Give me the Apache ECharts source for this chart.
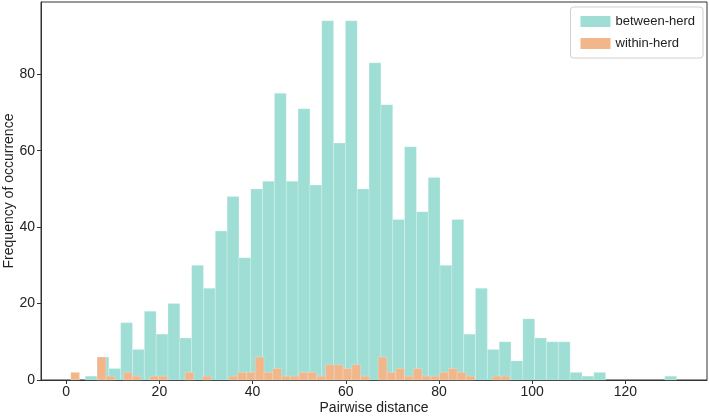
<!DOCTYPE html>
<html>
<head>
<meta charset="utf-8">
<script src="https://cdn.jsdelivr.net/npm/echarts@6/dist/echarts.min.js"></script>
<style>
html,body{margin:0;padding:0;background:#fff;}
#chart{width:709px;height:416px;}
</style>
</head>
<body>
<div id="chart"></div>
<script>
// Histogram bins (value space)
const betweenBinStart = 4.08;
const betweenBinWidth = 2.538;
const betweenCounts = [1,6,3,15,8,18,12,20,11,30,24,39,48,32,50,52,75,52,71,51,94,62,94,50,83,72,42,61,44,53,30,42,12,24,8,10,5,16,11,10,10,2,1,2,0,0,0,0,0,1];

const withinBinStart = 1.0;
const withinBinWidth = 1.884;
const withinCounts = [2,0,0,6,1,0,2,1,0,1,1,0,0,2,0,1,0,0,1,2,2,6,2,3,1,1,2,2,1,4,4,3,4,1,0,6,2,3,1,3,1,1,2,3,2,1,0,0,1,1];

const xTicks = [0,20,40,60,80,100,120];
const yTicks = [0,20,40,60,80];
const seriesNames = ['between-herd','within-herd'];

function toBins(start, width, counts){
  const out = [];
  counts.forEach((c,i)=>{ if (c>0) out.push([start+i*width, start+(i+1)*width, c]); });
  return out;
}

function makeRender(color){
  return function(params, api){
    const x0 = api.value(0), x1 = api.value(1), v = api.value(2);
    const p0 = api.coord([x0, v]);
    const p1 = api.coord([x1, 0]);
    return {
      type:'rect',
      shape:{x:p0[0], y:p0[1], width:p1[0]-p0[0], height:p1[1]-p0[1]},
      style:{fill:color, stroke:'rgba(255,255,255,0.35)', lineWidth:0.6}
    };
  };
}

const teal = '#9fded5';
const orange = '#f2b68b';

const chart = echarts.init(document.getElementById('chart'), null, {renderer:'canvas'});
chart.setOption({
  animation:false,
  backgroundColor:'#fff',
  textStyle:{fontFamily:'Liberation Sans, Arial, sans-serif'},
  grid:{left:41, right:2, top:2, bottom:36, containLabel:false, outerBoundsMode:'none',
        show:true, borderColor:'#333', borderWidth:1, backgroundColor:'transparent'},
  legend:{
    orient:'vertical', right:6, top:7,
    data:seriesNames,
    icon:'rect', itemWidth:30, itemHeight:11, itemGap:9,
    padding:[8,8,8,10],
    borderColor:'#d0d0d0', borderWidth:1, borderRadius:3,
    backgroundColor:'rgba(255,255,255,0.8)',
    textStyle:{fontSize:13, color:'#222', fontFamily:'Liberation Sans, Arial, sans-serif'}
  },
  xAxis:{
    type:'value', min:-5.4, max:137.5,
    name:'Pairwise distance', nameLocation:'middle', nameGap:21, nameMoveOverlap:false,
    nameTextStyle:{fontSize:14, color:'#222'},
    axisLine:{show:true, onZero:false, lineStyle:{color:'#333', width:1}},
    axisTick:{show:true, length:4, lineStyle:{color:'#333'}, customValues:xTicks},
    axisLabel:{fontSize:14, color:'#222', margin:5, customValues:xTicks},
    splitLine:{show:false}
  },
  yAxis:{
    type:'value', min:0, max:98.9,
    name:'Frequency of occurrence', nameLocation:'middle', nameGap:25, nameMoveOverlap:false,
    nameTextStyle:{fontSize:14, color:'#222'},
    axisLine:{show:true, onZero:false, lineStyle:{color:'#333', width:1}},
    axisTick:{show:true, length:4, lineStyle:{color:'#333'}, customValues:yTicks},
    axisLabel:{fontSize:14, color:'#222', margin:6, customValues:yTicks},
    splitLine:{show:false}
  },
  series:[
    {name:seriesNames[0], type:'custom', renderItem:makeRender(teal), itemStyle:{color:teal},
     encode:{x:[0,1], y:2}, data:toBins(betweenBinStart, betweenBinWidth, betweenCounts), z:2},
    {name:seriesNames[1], type:'custom', renderItem:makeRender(orange), itemStyle:{color:orange},
     encode:{x:[0,1], y:2}, data:toBins(withinBinStart, withinBinWidth, withinCounts), z:3}
  ]
});
</script>
</body>
</html>
